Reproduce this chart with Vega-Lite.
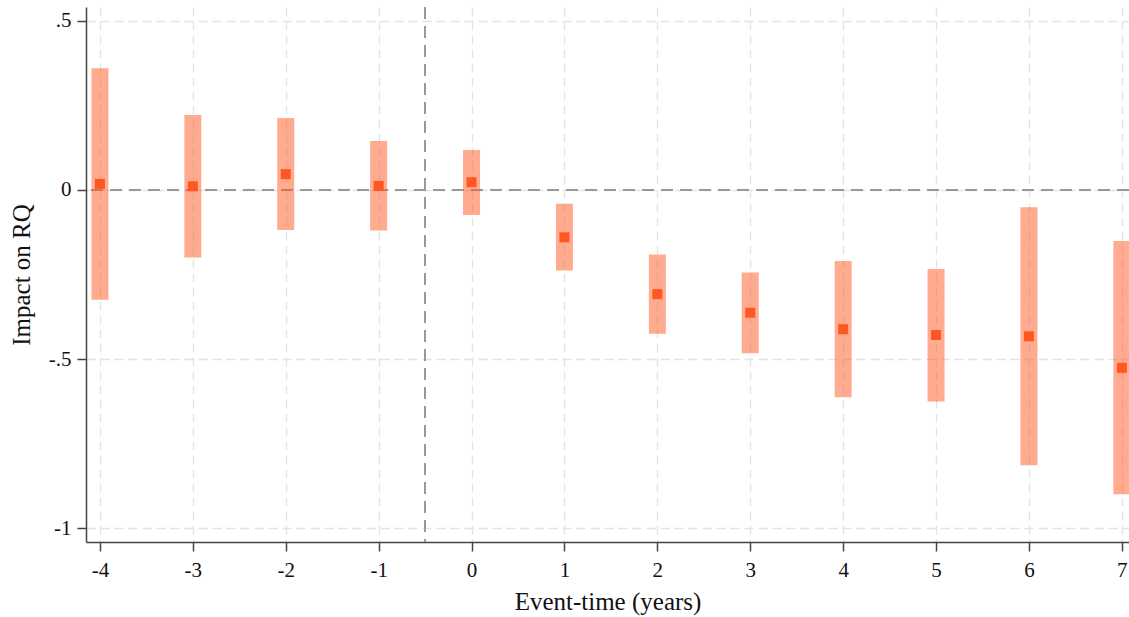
{
  "$schema": "https://vega.github.io/schema/vega-lite/v6.json",
  "width": 1043,
  "height": 535,
  "autosize": {"type": "none"},
  "padding": {"left": 86, "top": 7, "right": 0, "bottom": 75},
  "background": "white",
  "config": {
    "view": {"stroke": null},
    "font": "Liberation Serif"
  },
  "data": {
    "values": [
      {"t": -4, "b": 0.018, "lo": -0.325, "hi": 0.360},
      {"t": -3, "b": 0.011, "lo": -0.200, "hi": 0.222},
      {"t": -2, "b": 0.047, "lo": -0.118, "hi": 0.213},
      {"t": -1, "b": 0.012, "lo": -0.120, "hi": 0.145},
      {"t": 0, "b": 0.023, "lo": -0.074, "hi": 0.118},
      {"t": 1, "b": -0.140, "lo": -0.238, "hi": -0.041},
      {"t": 2, "b": -0.308, "lo": -0.425, "hi": -0.191},
      {"t": 3, "b": -0.363, "lo": -0.483, "hi": -0.244},
      {"t": 4, "b": -0.412, "lo": -0.613, "hi": -0.210},
      {"t": 5, "b": -0.429, "lo": -0.626, "hi": -0.234},
      {"t": 6, "b": -0.433, "lo": -0.814, "hi": -0.051},
      {"t": 7, "b": -0.526, "lo": -0.900, "hi": -0.151}
    ]
  },
  "encoding": {
    "x": {
      "field": "t",
      "type": "quantitative",
      "scale": {"domain": [-4.15, 7.077], "nice": false, "zero": false},
      "axis": {
        "title": "Event-time (years)",
        "values": [-4, -3, -2, -1, 0, 1, 2, 3, 4, 5, 6, 7],
        "labelExpr": "toString(datum.value)",
        "labelFont": "Liberation Serif",
        "labelFontSize": 21,
        "labelColor": "#111",
        "labelPadding": 8,
        "tickSize": 9,
        "tickColor": "#444",
        "tickWidth": 1.5,
        "domainColor": "#444",
        "domainWidth": 1.5,
        "grid": true,
        "gridColor": "#e3e3e3",
        "gridDash": [9, 5],
        "gridWidth": 1.3,
        "titleFont": "Liberation Serif",
        "titleFontSize": 25,
        "titleFontWeight": "normal",
        "titleColor": "#111",
        "titlePadding": 9
      }
    },
    "y": {
      "field": "b",
      "type": "quantitative",
      "scale": {"domain": [-1.0414, 0.5414], "nice": false, "zero": false},
      "axis": {
        "title": "Impact on RQ",
        "values": [-1, -0.5, 0, 0.5],
        "labelExpr": "datum.value == 0.5 ? '.5' : datum.value == 0 ? '0' : datum.value == -0.5 ? '-.5' : '-1'",
        "labelFont": "Liberation Serif",
        "labelFontSize": 21,
        "labelColor": "#111",
        "labelPadding": 6,
        "tickSize": 9,
        "tickColor": "#444",
        "tickWidth": 1.5,
        "domainColor": "#444",
        "domainWidth": 1.5,
        "grid": true,
        "gridColor": "#e3e3e3",
        "gridDash": [9, 5],
        "gridWidth": 1.3,
        "titleFont": "Liberation Serif",
        "titleFontSize": 25,
        "titleFontWeight": "normal",
        "titleColor": "#111",
        "titlePadding": 14
      }
    }
  },
  "layer": [
    {
      "mark": {"type": "rule", "color": "#999999", "strokeDash": [12, 7], "strokeWidth": 1.5},
      "encoding": {"y": {"datum": 0}, "x": null}
    },
    {
      "mark": {"type": "rule", "color": "#999999", "strokeDash": [12, 7], "strokeWidth": 1.5},
      "encoding": {"x": {"datum": -0.5}, "y": null}
    },
    {
      "mark": {"type": "rule", "color": "#FF5722", "opacity": 0.5, "strokeWidth": 17, "strokeCap": "butt"},
      "encoding": {
        "y": {"field": "lo", "type": "quantitative"},
        "y2": {"field": "hi"}
      }
    },
    {
      "mark": {"type": "square", "color": "#FF5722", "opacity": 1, "size": 100, "filled": true},
      "encoding": {}
    }
  ]
}
